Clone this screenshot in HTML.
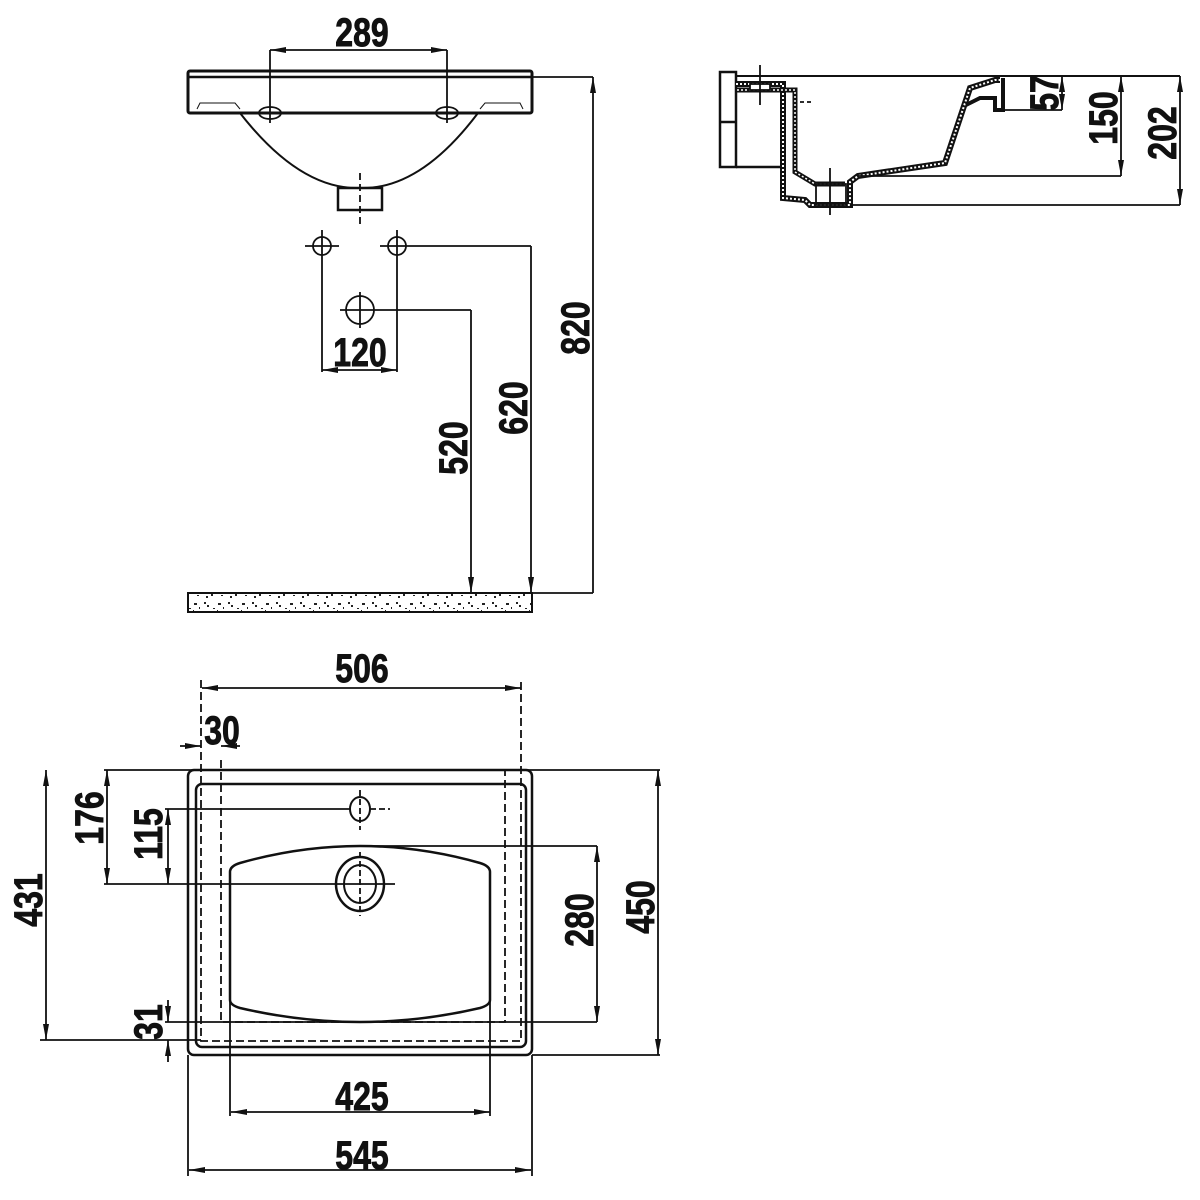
<!DOCTYPE html>
<html><head><meta charset="utf-8"><style>
html,body{margin:0;padding:0;background:#fff;}
svg{display:block;}
text{font-family:"Liberation Sans",sans-serif;font-weight:bold;font-size:40px;fill:#111;stroke:#111;stroke-width:0.9px;}
</style></head><body>
<svg width="1200" height="1200" viewBox="0 0 1200 1200" xmlns="http://www.w3.org/2000/svg">
<defs>
<marker id="a" viewBox="0 0 16 6" refX="16" refY="3" markerWidth="16" markerHeight="6" markerUnits="userSpaceOnUse" orient="auto-start-reverse">
<path d="M0,0 L16,3 L0,6 Z" fill="#111"/></marker>
<pattern id="sp" width="24" height="20" patternUnits="userSpaceOnUse">
<rect x="2" y="3" width="3" height="2" fill="#222"/><rect x="9" y="11" width="2" height="2" fill="#222"/><rect x="15" y="5" width="2" height="2" fill="#222"/><rect x="19" y="14" width="2" height="2" fill="#222"/><rect x="5" y="15" width="2" height="1" fill="#222"/><rect x="12" y="2" width="2" height="2" fill="#222"/><rect x="21" y="8" width="2" height="1" fill="#222"/><rect x="7" y="7" width="1" height="2" fill="#222"/><rect x="14" y="16" width="2" height="2" fill="#222"/><rect x="1" y="10" width="1" height="2" fill="#222"/>
</pattern>
</defs>
<g fill="none" stroke="#111" stroke-width="1.8">
<!-- FRONT VIEW -->
<rect x="188" y="71" width="344" height="42" rx="2" stroke-width="3"/>
<line x1="188" y1="77" x2="532" y2="77" stroke-width="2.5"/>
<path d="M197,109 L200,103 L235,103 L240,109" stroke-width="1"/>
<path d="M523,109 L520,103 L485,103 L480,109" stroke-width="1"/>
<path d="M240,113 Q300,190 360,188 Q420,190 478,113" stroke-width="2"/>
<rect x="338" y="188" width="44" height="22" stroke-width="2.5"/>
<line x1="360" y1="173" x2="360" y2="226" stroke-dasharray="7,4"/>
<ellipse cx="270" cy="113" rx="11" ry="6"/><ellipse cx="447" cy="113" rx="11" ry="6"/>
<line x1="270" y1="50" x2="270" y2="123"/><line x1="447" y1="50" x2="447" y2="123"/>
<line x1="270" y1="50" x2="447" y2="50" marker-start="url(#a)" marker-end="url(#a)"/>
<circle cx="322" cy="246" r="9"/><circle cx="397" cy="246" r="9"/>
<line x1="305" y1="246" x2="339" y2="246"/><line x1="380" y1="246" x2="397" y2="246"/>
<line x1="322" y1="230" x2="322" y2="372"/><line x1="397" y1="230" x2="397" y2="372"/>
<line x1="322" y1="370" x2="397" y2="370" marker-start="url(#a)" marker-end="url(#a)"/>
<circle cx="360" cy="310" r="14"/>
<line x1="340" y1="310" x2="471" y2="310"/><line x1="360" y1="292" x2="360" y2="328"/>
<line x1="397" y1="246" x2="531" y2="246"/>
<line x1="532" y1="77" x2="593" y2="77"/>
<line x1="471" y1="310" x2="471" y2="593" marker-end="url(#a)"/>
<line x1="531" y1="246" x2="531" y2="593" marker-end="url(#a)"/>
<line x1="593" y1="593" x2="593" y2="77" marker-end="url(#a)"/>
<line x1="532" y1="593" x2="593" y2="593"/>
<rect x="188" y="593" width="344" height="19" fill="url(#sp)" stroke-width="2"/>

<!-- SIDE VIEW -->
<line x1="737" y1="76" x2="1180" y2="76" stroke-width="2"/>
<rect x="720" y="72" width="16" height="95" stroke-width="2.5"/>
<line x1="720" y1="122" x2="736" y2="122" stroke-width="2.5"/>
<line x1="736" y1="167" x2="783" y2="167" stroke-width="2.5"/>
<path d="M736,84 L783,84 L783,198 L805,200 L810,205 L850,205 L850,182 L858,176 L945,163 L970,88 L995,80 L1000,80" stroke-width="6"/>
<path d="M736,84 L783,84 L783,198 L805,200 L810,205 L850,205 L850,182 L858,176 L945,163 L970,88 L995,80 L1000,80" stroke="#fff" stroke-width="2" stroke-dasharray="2,2"/>
<path d="M737,90 L795,90 L795,172 L815,184 L845,184" stroke-width="5"/>
<path d="M737,90 L795,90 L795,172 L815,184 L845,184" stroke="#fff" stroke-width="1.5" stroke-dasharray="2,2"/>
<path d="M966,105 L980,98 L995,98 L995,110 L1003,110 L1003,78" stroke-width="4"/>
<rect x="750" y="84" width="20" height="6" fill="#fff"/>
<line x1="760" y1="65" x2="760" y2="105"/>
<line x1="800" y1="102" x2="812" y2="102" stroke-dasharray="4,3"/>
<line x1="830" y1="168" x2="830" y2="215"/>
<rect x="816" y="184" width="30" height="21"/>
<line x1="850" y1="205" x2="1180" y2="205"/>
<line x1="858" y1="176" x2="1121" y2="176"/>
<line x1="1003" y1="110" x2="1062" y2="110"/>
<line x1="1062" y1="76" x2="1062" y2="110" marker-start="url(#a)" marker-end="url(#a)"/>
<line x1="1121" y1="76" x2="1121" y2="176" marker-start="url(#a)" marker-end="url(#a)"/>
<line x1="1180" y1="76" x2="1180" y2="205" marker-start="url(#a)" marker-end="url(#a)"/>

<!-- PLAN VIEW -->
<rect x="188" y="770" width="344" height="285" rx="6" stroke-width="2.5"/>
<rect x="196" y="784" width="330" height="263" rx="6" stroke-width="2.5"/>
<path d="M201,680 L201,1041 L521,1041 L521,680" stroke-dasharray="8,4"/>
<path d="M221,760 L221,1022 L505,1022 L505,770" stroke-dasharray="8,4"/>
<path d="M230,1000 L230,872 Q230,866 240,863 Q300,846 360,846 Q420,846 480,863 Q490,866 490,872 L490,1000 Q490,1005 480,1008 Q420,1022 360,1022 Q300,1022 240,1008 Q230,1005 230,1000 Z" stroke-width="2.5"/>
<ellipse cx="360" cy="809" rx="10" ry="12" stroke-width="2"/>
<ellipse cx="360" cy="884" rx="24" ry="27" stroke-width="2.5"/>
<ellipse cx="360" cy="884" rx="16" ry="19" stroke-width="2"/>
<line x1="360" y1="790" x2="360" y2="830" stroke-dasharray="6,3"/>
<line x1="360" y1="852" x2="360" y2="916" stroke-dasharray="6,3"/>
<line x1="370" y1="809" x2="390" y2="809" stroke-dasharray="6,3"/>
<line x1="202" y1="688" x2="521" y2="688" marker-start="url(#a)" marker-end="url(#a)"/>
<line x1="180" y1="746" x2="201" y2="746" marker-end="url(#a)"/>
<line x1="240" y1="746" x2="221" y2="746" marker-end="url(#a)"/>
<line x1="104" y1="770" x2="532" y2="770"/>
<line x1="40" y1="1040" x2="201" y2="1040"/>
<line x1="46" y1="770" x2="46" y2="1040" marker-start="url(#a)" marker-end="url(#a)"/>
<line x1="104" y1="884" x2="395" y2="884"/>
<line x1="107" y1="770" x2="107" y2="884" marker-start="url(#a)" marker-end="url(#a)"/>
<line x1="165" y1="809" x2="350" y2="809"/>
<line x1="168" y1="809" x2="168" y2="884" marker-start="url(#a)" marker-end="url(#a)"/>
<line x1="165" y1="1022" x2="597" y2="1022"/>
<line x1="168" y1="1000" x2="168" y2="1022" marker-end="url(#a)"/>
<line x1="168" y1="1062" x2="168" y2="1040" marker-end="url(#a)"/>
<line x1="360" y1="846" x2="597" y2="846"/>
<line x1="597" y1="846" x2="597" y2="1022" marker-start="url(#a)" marker-end="url(#a)"/>
<line x1="532" y1="770" x2="660" y2="770"/>
<line x1="532" y1="1055" x2="660" y2="1055"/>
<line x1="658" y1="770" x2="658" y2="1055" marker-start="url(#a)" marker-end="url(#a)"/>
<line x1="230" y1="1000" x2="230" y2="1116"/><line x1="490" y1="1000" x2="490" y2="1116"/>
<line x1="231" y1="1112" x2="490" y2="1112" marker-start="url(#a)" marker-end="url(#a)"/>
<line x1="188" y1="1055" x2="188" y2="1176"/><line x1="532" y1="1055" x2="532" y2="1176"/>
<line x1="189" y1="1170" x2="531" y2="1170" marker-start="url(#a)" marker-end="url(#a)"/>
</g>
<g>
<text transform="translate(362,46) scale(0.8,1)" text-anchor="middle">289</text>
<text transform="translate(360,366) scale(0.8,1)" text-anchor="middle">120</text>
<text transform="translate(467,448) rotate(-90) scale(0.8,1)" text-anchor="middle">520</text>
<text transform="translate(527,408) rotate(-90) scale(0.8,1)" text-anchor="middle">620</text>
<text transform="translate(589,328) rotate(-90) scale(0.8,1)" text-anchor="middle">820</text>
<text transform="translate(1058,93) rotate(-90) scale(0.8,1)" text-anchor="middle">57</text>
<text transform="translate(1117,118) rotate(-90) scale(0.8,1)" text-anchor="middle">150</text>
<text transform="translate(1176,133) rotate(-90) scale(0.8,1)" text-anchor="middle">202</text>
<text transform="translate(362,682) scale(0.8,1)" text-anchor="middle">506</text>
<text transform="translate(222,744) scale(0.8,1)" text-anchor="middle">30</text>
<text transform="translate(42,900) rotate(-90) scale(0.8,1)" text-anchor="middle">431</text>
<text transform="translate(103,818) rotate(-90) scale(0.8,1)" text-anchor="middle">176</text>
<text transform="translate(162,834) rotate(-90) scale(0.8,1)" text-anchor="middle">115</text>
<text transform="translate(162,1022) rotate(-90) scale(0.8,1)" text-anchor="middle">31</text>
<text transform="translate(593,920) rotate(-90) scale(0.8,1)" text-anchor="middle">280</text>
<text transform="translate(654,907) rotate(-90) scale(0.8,1)" text-anchor="middle">450</text>
<text transform="translate(362,1110) scale(0.8,1)" text-anchor="middle">425</text>
<text transform="translate(362,1169) scale(0.8,1)" text-anchor="middle">545</text>
</g>
</svg>
</body></html>
